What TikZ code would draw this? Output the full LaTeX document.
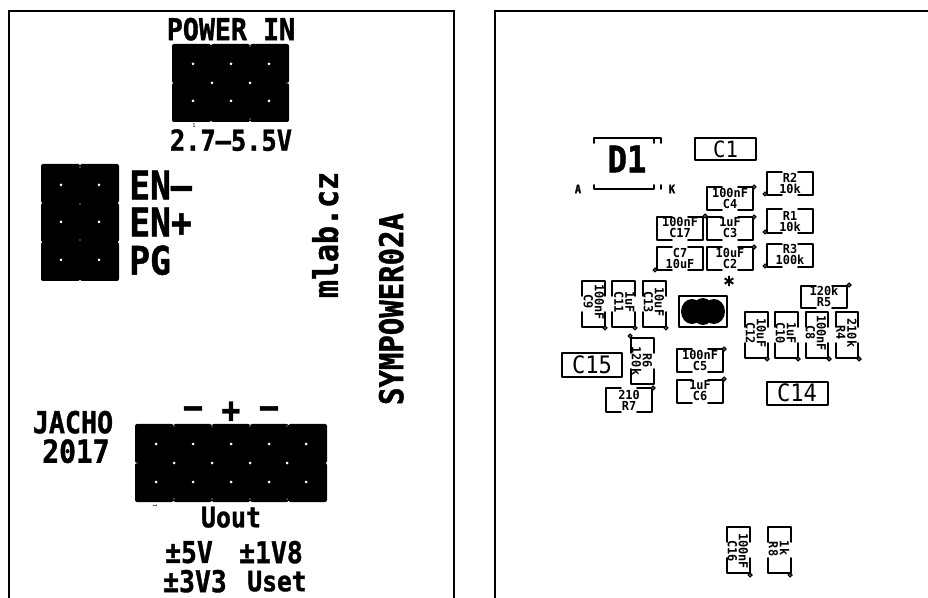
\documentclass[tikz,border=0pt]{standalone}
\usepackage{fontspec}
\setmonofont{DejaVu Sans Mono}
\newfontfamily\kibold[FakeStretch=0.88,FakeBold=1.2]{DejaVu Sans Mono Bold}
\newfontfamily\kival[FakeStretch=0.96]{DejaVu Sans Mono Bold}
\newfontfamily\kiref[FakeStretch=0.92]{DejaVu Sans Mono}
\newcommand{\pinblock}[5]{%
  \fill[black] ({#1+0.8},{#2+0.8}) rectangle ({#1+#5*#3-0.8},{#2+39*#4-0.8});
  \foreach \i in {1,...,#3}{\foreach \j in {1,...,#4}{
    \fill[black,rounded corners=1.5pt] ({#1+#5*(\i-1)},{#2+39*(\j-1)}) rectangle ({#1+#5*\i},{#2+39*\j});
  }}}
\newcommand{\pinhole}[2]{\fill[white] (#1,#2) circle (1.5);}
\newcommand{\pintiny}[2]{\fill[white] (#1,#2) circle (0.7);}
% horizontal part: left and right brackets, gaps in top and bottom
\newcommand{\hpart}[6]{%
  \draw[part] ({#1+15},#2) -- (#1,#2) -- (#1,#4) -- ({#1+15},#4);
  \draw[part] ({#3-15},#2) -- (#3,#2) -- (#3,#4) -- ({#3-15},#4);
  \draw[pin] (#5,#6) circle (1.8);}
% vertical part: upper and lower brackets, gaps in left and right
\newcommand{\vpart}[6]{%
  \draw[part] (#1,{#2+15}) -- (#1,#2) -- (#3,#2) -- (#3,{#2+15});
  \draw[part] (#1,{#4-15}) -- (#1,#4) -- (#3,#4) -- (#3,{#4-15});
  \draw[pin] (#5,#6) circle (1.8);}
\tikzset{
  frame/.style={draw=black,line width=1.1pt},
  part/.style={draw=black,line width=1.3pt,line cap=round,line join=round},
  pin/.style={draw=black,line width=1pt,fill=white},
  big/.style={font=\kibold\fontsize{#1}{#1}\selectfont,inner sep=0pt,text depth=0pt},
  val/.style={font=\kival\fontsize{9.3}{9.3}\selectfont,inner sep=0pt,text depth=0pt},
  ref/.style={font=\kiref\fontsize{#1}{#1}\selectfont,inner sep=0pt,text depth=0pt},
}
\begin{document}
\begin{tikzpicture}[x=0.75pt,y=-0.75pt]
\useasboundingbox (0,0) rectangle (928,598);
\fill[white] (0,0) rectangle (928,598);
% board outlines
\draw[frame] (9,598) -- (9,11) -- (454,11) -- (454,598);
\draw[frame] (495,598) -- (495,11) -- (928,11);
% left side: pin blocks
\pinblock{172}{44}{3}{2}{39}
\pinblock{41}{164}{2}{3}{39}
\pinblock{135}{424}{5}{2}{38.4}
\foreach \x in {193,231,269}{\pinhole{\x}{64}\pinhole{\x}{101}}
\pinhole{212}{83}\pinhole{250}{83}
\pintiny{250}{46}\pintiny{250}{119}\pintiny{287}{83}
\foreach \y in {185,222,260}{\pinhole{61}{\y}\pinhole{99}{\y}}
\pintiny{80}{167}\pintiny{80}{204}\pintiny{80}{240}
\foreach \x in {156,193,231,269,306}{\pinhole{\x}{444}\pinhole{\x}{482}}
\foreach \x in {174,212,250,287}{\pinhole{\x}{463}\pintiny{\x}{499}\pintiny{\x}{426}}
\pintiny{137}{463}
% left side: texts
\node[big=22.7] (tpower) at (231,29) {POWER IN};
\node[big=21.6] (trange) at (231,140) {2.7–5.5V};
\node[big=29.5,anchor=west] (tenm) at (129,185) {EN–};
\node[big=29.5,anchor=west] (tenp) at (129,222) {EN+};
\node[big=29.5,anchor=west] (tpg) at (129,260) {PG};
\node[big=25.5,rotate=90] (tmlab) at (325,235) {mlab.cz};
\node[big=24.7,rotate=90] (tsym) at (391,309) {SYMPOWER02A};
\node[big=22.7] (tjacho) at (73,422) {JACHO};
\node[big=23.8] (t2017) at (76,451) {2017};
\node[big=25] (tm1) at (193,412) {–};
\node[big=27] (tp) at (231,412) {+};
\node[big=25] (tm2) at (269,412) {–};
\node[big=21.2] (tuout) at (231,517) {Uout};
\node[big=22.5] (t5v) at (189,552) {±5V};
\node[big=22.5] (t1v8) at (271,552) {±1V8};
\node[big=22.5] (t3v3) at (195,581) {±3V3};
\node[big=21] (tuset) at (277,581) {Uset};
\node[font=\ttfamily\fontsize{4}{4}\selectfont,rotate=90,inner sep=0pt] (tone) at (155,506) {1};
\node[font=\ttfamily\fontsize{4}{4}\selectfont,inner sep=0pt] (ttwo) at (194,126) {1};
% right side: D1
\draw[part] (594,143) -- (594,138) -- (661,138) -- (661,143);
\draw[part] (654,138) -- (654,143);
\draw[part] (594,185) -- (594,189) -- (654,189) -- (654,185);
\draw[part] (661,185) -- (661,189);
\node[big=27.5] (td1) at (627,159) {D1};
\node[big=9] (ta) at (578,189) {A};
\node[big=9] (tk) at (672,189) {K};
% big capacitors
\draw[part] (695,138) rectangle (756,160);
\node[ref=16.8] (tc1) at (725.5,149) {C1};
\draw[part] (562,353) rectangle (622,377);
\node[ref=18] (tc15) at (592,365) {C15};
\draw[part] (767,382) rectangle (828,405);
\node[ref=18] (tc14) at (797,393) {C14};
% horizontal parts
\hpart{767}{172}{813}{195}{765}{194}
\node[val] at (790,178) {R2}; \node[val] at (790,189) {10k};
\hpart{767}{209}{813}{233}{765}{232}
\node[val] at (790,215.5) {R1}; \node[val] at (790,226.5) {10k};
\hpart{767}{244}{813}{267}{765}{266}
\node[val] at (790,249) {R3}; \node[val] at (790,260) {100k};
\hpart{707}{187}{753}{210}{754}{187}
\node[val] at (730,193) {100nF}; \node[val] at (730,204) {C4};
\hpart{707}{217}{753}{240}{754}{217}
\node[val] at (730,222) {1uF}; \node[val] at (730,233) {C3};
\hpart{707}{247}{753}{270}{754}{247}
\node[val] at (730,252.5) {10uF}; \node[val] at (730,263.5) {C2};
\hpart{657}{217}{703}{240}{705}{216}
\node[val] at (680,222) {100nF}; \node[val] at (680,233) {C17};
\hpart{657}{247}{703}{270}{655}{270}
\node[val] at (680,253) {C7}; \node[val] at (680,264) {10uF};
\hpart{801}{286}{847}{308}{849}{285}
\node[val] at (824,290.5) {120k}; \node[val] at (824,301.5) {R5};
\hpart{677}{349}{723}{372}{724}{349}
\node[val] at (700,354.5) {100nF}; \node[val] at (700,365.5) {C5};
\hpart{677}{380}{723}{403}{724}{379}
\node[val] at (700,385) {1uF}; \node[val] at (700,396) {C6};
\hpart{606}{388}{652}{412}{653}{388}
\node[val] at (629,394.5) {210}; \node[val] at (629,405.5) {R7};
% vertical parts
\vpart{582}{281}{605}{327}{605}{328}
\node[val,rotate=-90] at (599.5,302) {100nF}; \node[val,rotate=-90] at (588.5,302) {C9};
\vpart{612}{281}{635}{327}{635}{328}
\node[val,rotate=-90] at (630,302) {1uF}; \node[val,rotate=-90] at (619,302) {C11};
\vpart{643}{281}{666}{327}{666}{328}
\node[val,rotate=-90] at (659.5,302) {10uF}; \node[val,rotate=-90] at (648.5,302) {C13};
\vpart{745}{312}{768}{358}{767}{359}
\node[val,rotate=-90] at (761.5,333) {10uF}; \node[val,rotate=-90] at (750.5,333) {C12};
\vpart{775}{312}{798}{358}{798}{359}
\node[val,rotate=-90] at (791.5,333) {1uF}; \node[val,rotate=-90] at (780.5,333) {C10};
\vpart{806}{312}{828}{358}{829}{359}
\node[val,rotate=-90] at (821.5,333) {100nF}; \node[val,rotate=-90] at (810.5,333) {C8};
\vpart{836}{312}{858}{358}{859}{359}
\node[val,rotate=-90] at (852,333) {210k}; \node[val,rotate=-90] at (841,333) {R4};
\vpart{631}{338}{654}{384}{630}{336}
\node[val,rotate=-90] at (647.5,361) {R6}; \node[val,rotate=-90] at (636.5,361) {120k};
\vpart{727}{527}{750}{573}{750}{575}
\node[val,rotate=-90] at (743.5,551) {100nF}; \node[val,rotate=-90] at (732.5,551) {C16};
\vpart{768}{527}{791}{573}{790}{575}
\node[val,rotate=-90] at (784.5,548) {1k}; \node[val,rotate=-90] at (773.5,549) {R8};
% IC
\draw[part] (679,296) rectangle (727,327);
\fill[black] (692,311.5) ellipse (11 and 12.5);
\fill[black] (703,311.5) ellipse (11 and 13.5);
\fill[black] (714,311.5) ellipse (11 and 12.5);
\node[big=16] (tstar) at (729,284) {*};
\end{tikzpicture}
\end{document}
